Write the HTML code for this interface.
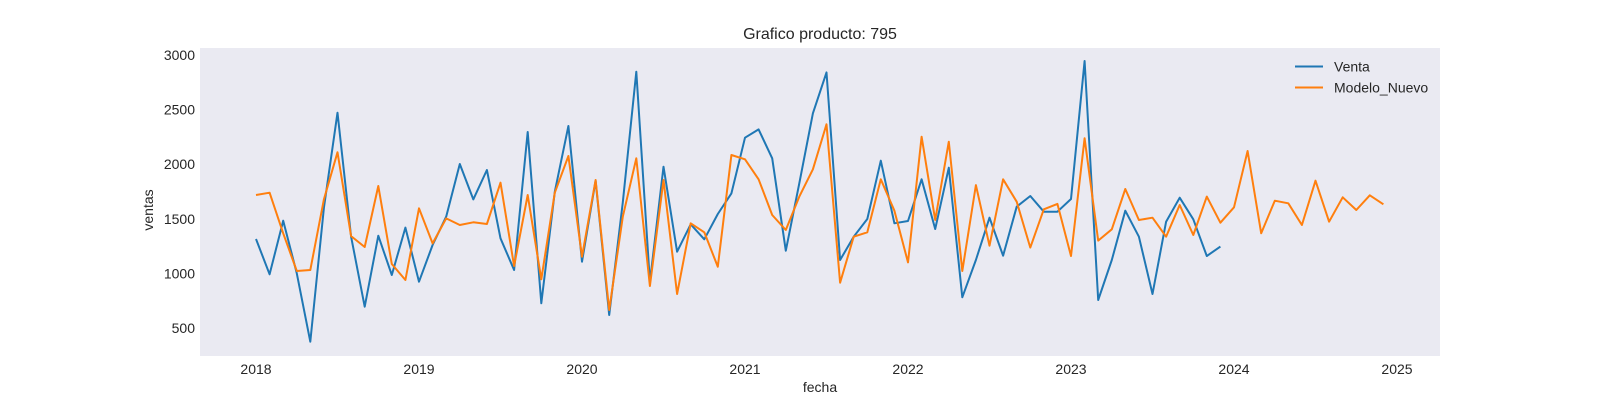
<!DOCTYPE html>
<html><head><meta charset="utf-8"><style>
body{margin:0;background:#fff;}
svg{display:block;font-family:"Liberation Sans",Arial,sans-serif;}
</style></head><body>
<svg id="chart" width="1600" height="400" viewBox="0 0 1600 400">
<rect x="200" y="48" width="1240" height="308" fill="#eaeaf2"/>
<text x="820" y="39" text-anchor="middle" font-size="16" fill="#262626">Grafico producto: 795</text>
<text x="820" y="392" text-anchor="middle" font-size="14" fill="#262626">fecha</text>
<text transform="translate(153,210) rotate(-90)" text-anchor="middle" font-size="14" fill="#262626">ventas</text>
<g id="xticks"></g>
<g id="yticks"></g>
<g id="series"></g>
<g>
<line x1="1295" y1="66.5" x2="1323" y2="66.5" stroke="#1f77b4" stroke-width="2"/>
<text x="1334" y="71.5" font-size="14" fill="#262626">Venta</text>
<line x1="1295" y1="87.5" x2="1323" y2="87.5" stroke="#ff7f0e" stroke-width="2"/>
<text x="1334" y="92.5" font-size="14" fill="#262626">Modelo_Nuevo</text>
</g>
</svg>
<script>
const startYear = 2018;
const xTickLabels = [2018,2019,2020,2021,2022,2023,2024,2025];
const yTickLabels = [500,1000,1500,2000,2500,3000];
const venta = [1315,992,1483,1000,375,1600,2472,1336,695,1345,985,1419,924,1260,1520,2002,1678,1947,1321,1031,2295,726,1748,2350,1107,1849,619,1650,2847,920,1977,1199,1450,1312,1544,1733,2243,2319,2054,1208,1825,2466,2841,1123,1336,1498,2032,1459,1480,1862,1407,1968,781,1123,1510,1162,1611,1709,1565,1565,1681,2945,756,1123,1574,1336,811,1473,1693,1495,1159,1245];
const modelo = [1718,1739,1367,1022,1031,1678,2109,1342,1242,1800,1086,940,1596,1275,1504,1443,1468,1452,1831,1068,1718,946,1739,2075,1153,1855,665,1519,2054,885,1855,811,1459,1376,1061,2084,2045,1862,1535,1397,1703,1953,2365,915,1336,1376,1862,1574,1101,2252,1489,2206,1022,1809,1254,1862,1657,1236,1587,1636,1159,2237,1300,1404,1773,1489,1510,1336,1626,1352,1703,1464,1605,2121,1367,1666,1642,1443,1849,1473,1697,1581,1715,1633];
const NS="http://www.w3.org/2000/svg";
function xMonth(i){return 256 + i*163/12;}
function xYear(y){return 256 + (y-startYear)*163;}
function yVal(v){return 382.6 - v*0.1092;}
const xg=document.getElementById('xticks');
xTickLabels.forEach(t=>{
  const el=document.createElementNS(NS,'text');
  el.setAttribute('x',xYear(t));el.setAttribute('y',374);
  el.setAttribute('text-anchor','middle');el.setAttribute('font-size','14');el.setAttribute('fill','#262626');
  
  
  el.textContent=t;xg.appendChild(el);
});
const yg=document.getElementById('yticks');
yTickLabels.forEach(t=>{
  const el=document.createElementNS(NS,'text');
  el.setAttribute('x',195);el.setAttribute('y',yVal(t)+5);
  el.setAttribute('text-anchor','end');el.setAttribute('font-size','14');el.setAttribute('fill','#262626');
  
  
  el.textContent=t;yg.appendChild(el);
});
const sg=document.getElementById('series');
function draw(arr,color,name){
  const p=document.createElementNS(NS,'polyline');
  p.setAttribute('points',arr.map((v,i)=>xMonth(i).toFixed(1)+','+yVal(v).toFixed(1)).join(' '));
  p.setAttribute('fill','none');p.setAttribute('stroke',color);p.setAttribute('stroke-width','2');
  p.setAttribute('stroke-linejoin','round');
  
  
  sg.appendChild(p);
}
draw(venta,'#1f77b4','venta-line');
draw(modelo,'#ff7f0e','modelo-nuevo-line');
</script>
</body></html>
